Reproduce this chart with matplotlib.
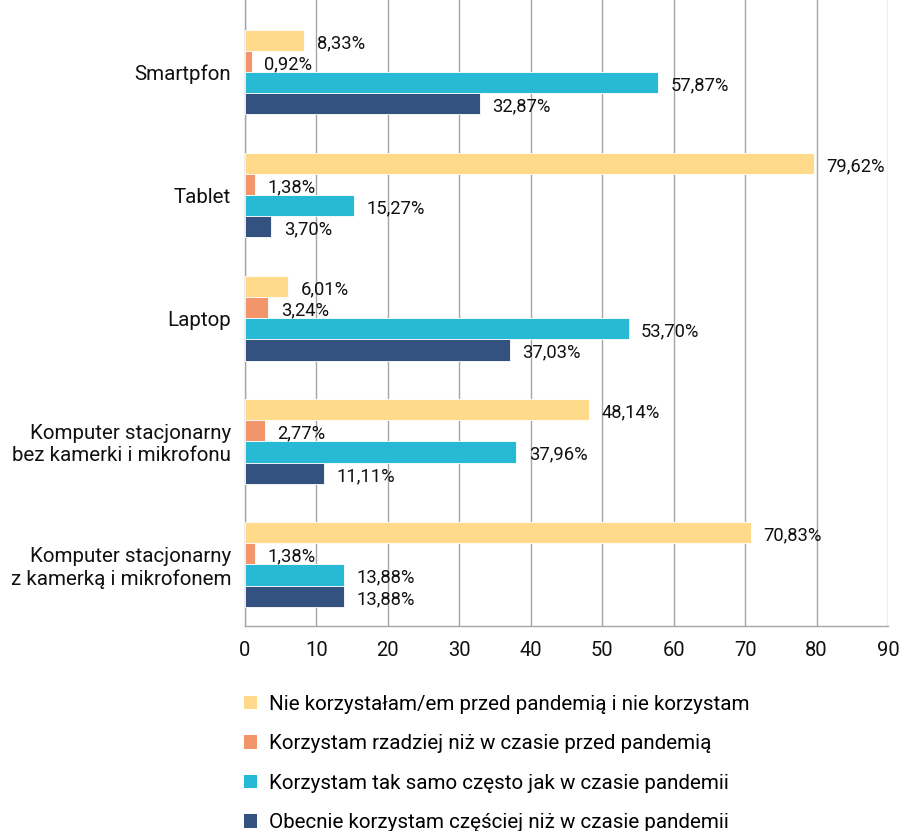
import matplotlib
matplotlib.use('Agg')
import matplotlib.pyplot as plt
import numpy as np
from matplotlib.patches import Patch

plt.rcParams['font.family'] = ['Roboto', 'DejaVu Sans']

categories = ['Smartpfon', 'Tablet', 'Laptop',
              'Komputer stacjonarny\nbez kamerki i mikrofonu',
              'Komputer stacjonarny\nz kamerką i mikrofonem']
series_names = ['Nie korzystałam/em przed pandemią i nie korzystam',
                'Korzystam rzadziej niż w czasie przed pandemią',
                'Korzystam tak samo często jak w czasie pandemii',
                'Obecnie korzystam częściej niż w czasie pandemii']
nie_korzystam = [8.33, 79.62, 6.01, 48.14, 70.83]
rzadziej = [0.92, 1.38, 3.24, 2.77, 1.38]
tak_samo = [57.87, 15.27, 53.70, 37.96, 13.88]
czesciej = [32.87, 3.70, 37.03, 11.11, 13.88]
colors = ['#FFDA8B', '#F3956A', '#28BAD4', '#34527F']

series = [nie_korzystam, rzadziej, tak_samo, czesciej]

fig = plt.figure(figsize=(9, 8.31), dpi=100)
ax = fig.add_axes([0.2722, 0.2467, 0.7145, 0.7533])

y = np.arange(len(categories))
h = 0.172
for k, (vals, col) in enumerate(zip(series, colors)):
    pos = y + (k - 1.5) * h
    bars = ax.barh(pos, vals, height=h, color=col, edgecolor='white',
                   linewidth=0.6, zorder=3)
    for b, v in zip(bars, vals):
        ax.annotate(f'{v:.2f}%'.replace('.', ','),
                    (b.get_width(), b.get_y() + b.get_height() / 2),
                    xytext=(9, -2), textcoords='offset points',
                    va='center', ha='left', fontsize=13.2, color='#111111',
                    zorder=4)

ax.set_xlim(0, 90)
ax.set_xticks(np.arange(0, 91, 10))
ax.set_ylim(len(categories) - 0.5, -0.585)
ax.set_yticks(y)
ax.set_yticklabels(categories, fontsize=14.8, color='#111111')
ax.tick_params(axis='x', labelsize=14.5, colors='#111111', length=0, pad=11)
ax.tick_params(axis='y', length=0, pad=10)
ax.xaxis.grid(True, color='#A6A6A6', linewidth=1, zorder=0)
for s in ['top', 'right']:
    ax.spines[s].set_visible(False)
for s in ['left', 'bottom']:
    ax.spines[s].set_color('#A6A6A6')
    ax.spines[s].set_linewidth(1)

handles = [Patch(facecolor=c, edgecolor='none') for c in colors]
fig.legend(handles, series_names, loc='upper left',
           bbox_to_anchor=(0.262, 0.174), frameon=False, fontsize=14.8,
           handlelength=0.62, handleheight=0.62, handletextpad=0.6,
           labelspacing=1.0, borderaxespad=0)

fig.savefig('out.png', dpi=100)
